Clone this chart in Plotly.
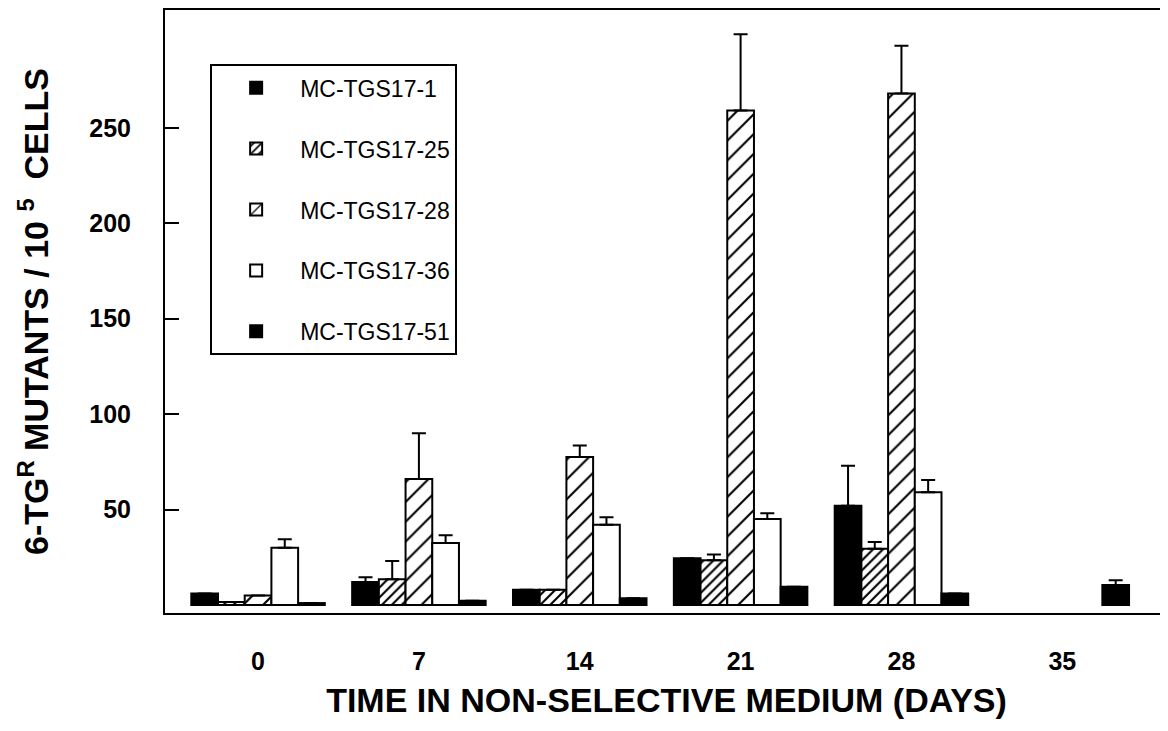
import plotly.graph_objects as go

# ---- data ----
days = [0, 7, 14, 21, 28, 35]
day_labels = ["0", "7", "14", "21", "28", "35"]

series_names = ["MC-TGS17-1", "MC-TGS17-25", "MC-TGS17-28", "MC-TGS17-36", "MC-TGS17-51"]

mc1 = [6, 12, 8, 24.5, 52, None]
mc1_err = [None, 2.5, None, None, 21, None]

mc25 = [1.5, 13.5, 8, 23.5, 29.5, None]
mc25_err = [None, 9.5, None, 3, 3.5, None]

mc28 = [5, 66, 77.5, 259, 268, None]
mc28_err = [None, 24, 6, 40, 25, None]

mc36 = [30, 32.5, 42, 45, 59, None]
mc36_err = [4.5, 4, 4, 3, 6.5, None]

mc51 = [1, 2.2, 3.5, 9.5, 6, 10.5]
mc51_err = [None, None, None, None, None, 2.5]

y_ticks = [50, 100, 150, 200, 250]

# ---- styles ----
styles = [
    dict(color="black", pattern=dict(shape="")),
    dict(color="white", pattern=dict(shape="/", size=7, solidity=0.3, fgcolor="black", bgcolor="white", fillmode="replace")),
    dict(color="white", pattern=dict(shape="/", size=14, solidity=0.15, fgcolor="black", bgcolor="white", fillmode="replace")),
    dict(color="white", pattern=dict(shape="")),
    dict(color="black", pattern=dict(shape="")),
]
values = [mc1, mc25, mc28, mc36, mc51]
errors = [mc1_err, mc25_err, mc28_err, mc36_err, mc51_err]

fig = go.Figure()
for i, (name, vals, errs, st) in enumerate(zip(series_names, values, errors, styles)):
    fig.add_trace(go.Bar(
        x=days, y=vals, name=name,
        legendgroup=name,
        marker=dict(color=st["color"], pattern=st["pattern"],
                    line=dict(color="black", width=2)),
        error_y=dict(type="data", array=errs, arrayminus=[0] * len(errs),
                     symmetric=False, color="black", thickness=2, width=7),
    ))

FONT = "Liberation Sans"

# the page body has an 8px margin, so the figure is sized/offset to compensate
fig.update_layout(
    width=1160, height=723,
    margin=dict(l=157, r=0, t=0, b=118),
    paper_bgcolor="white", plot_bgcolor="white",
    barmode="group", bargap=0.17, bargroupgap=0,
    font=dict(family=FONT, color="black"),
    showlegend=True,
    legend=dict(
        x=0.045, y=0.91, xanchor="left", yanchor="top",
        bordercolor="black", borderwidth=2, bgcolor="white",
        font=dict(family=FONT, size=23, color="black"),
        tracegroupgap=28, itemwidth=78,
    ),
    xaxis=dict(
        range=[-4.05, 39.6],
        tickmode="array", tickvals=days, ticktext=day_labels,
        showline=True, linecolor="black", linewidth=2, mirror=True,
        ticks="", showgrid=False, zeroline=False,
        tickfont=dict(family=FONT, size=25, color="black", weight="bold"),
        ticklabelstandoff=25,
        title=dict(text="TIME IN NON-SELECTIVE MEDIUM (DAYS)",
                   font=dict(family=FONT, size=34, color="black", weight="bold"),
                   standoff=14),
    ),
    yaxis=dict(
        range=[-4.2, 311.7],
        tickmode="array", tickvals=y_ticks,
        showline=True, linecolor="black", linewidth=2, mirror=False,
        ticks="inside", ticklen=14, tickwidth=2, tickcolor="black",
        showgrid=False, zeroline=False,
        tickfont=dict(family=FONT, size=25, color="black", weight="bold"),
        ticklabelstandoff=27,
        title=dict(text="6-TG<sup>R</sup> MUTANTS / 10 <sup>5</sup>  CELLS",
                   font=dict(family=FONT, size=34, color="black", weight="bold"),
                   standoff=30),
    ),
)

fig.write_html("out.html")
